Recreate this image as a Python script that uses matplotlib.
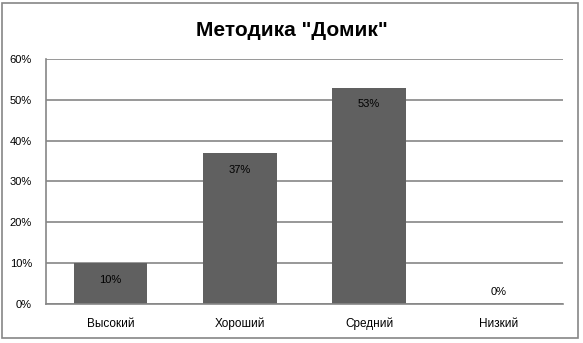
import matplotlib.pyplot as plt
from matplotlib.patches import Rectangle

# Data
categories = ["Высокий", "Хороший", "Средний", "Низкий"]
values = [10, 37, 53, 0]  # percent
y_ticks = [0, 10, 20, 30, 40, 50, 60]

bar_color = "#606060"
grid_color = "#868686"

plt.rcParams['font.family'] = ['Liberation Sans', 'DejaVu Sans']

fig = plt.figure(figsize=(5.83, 3.43), dpi=100)
ax = fig.add_axes([0.0789, 0.1137, 0.8868, 0.7143])

# outer chart border
fig.patches.append(Rectangle((0.004, 0.015), 0.988, 0.975, transform=fig.transFigure,
                             fill=False, edgecolor=grid_color, linewidth=1.2))

x = range(len(categories))
ax.bar(x, values, width=0.57, color=bar_color, zorder=2)

for xi, v in zip(x, values):
    off = -12 if v > 0 else 9
    ax.annotate(f"{v}%", (xi, v), xytext=(0, off), textcoords="offset points",
                ha="center", va="center", fontsize=8, color="black", zorder=3)

ax.set_xlim(-0.5, len(categories) - 0.5)
ax.set_ylim(0, 60)
ax.set_yticks(y_ticks)
ax.set_yticklabels([f"{t}%" for t in y_ticks], fontsize=8)
ax.set_xticks(list(x))
ax.set_xticklabels(categories, fontsize=8.5)
ax.tick_params(axis='both', length=0)
ax.tick_params(axis='x', pad=10)
ax.tick_params(axis='y', pad=10)

ax.yaxis.grid(True, color=grid_color, linewidth=1.2, zorder=1)
ax.set_axisbelow(True)
for side in ["top", "right"]:
    ax.spines[side].set_visible(False)
for side in ["left", "bottom"]:
    ax.spines[side].set_color(grid_color)
    ax.spines[side].set_linewidth(1.2)

fig.text(0.5, 0.912, 'Методика "Домик"', ha="center", va="center",
         fontsize=15, fontweight="bold")

fig.savefig("out.png", dpi=100)
